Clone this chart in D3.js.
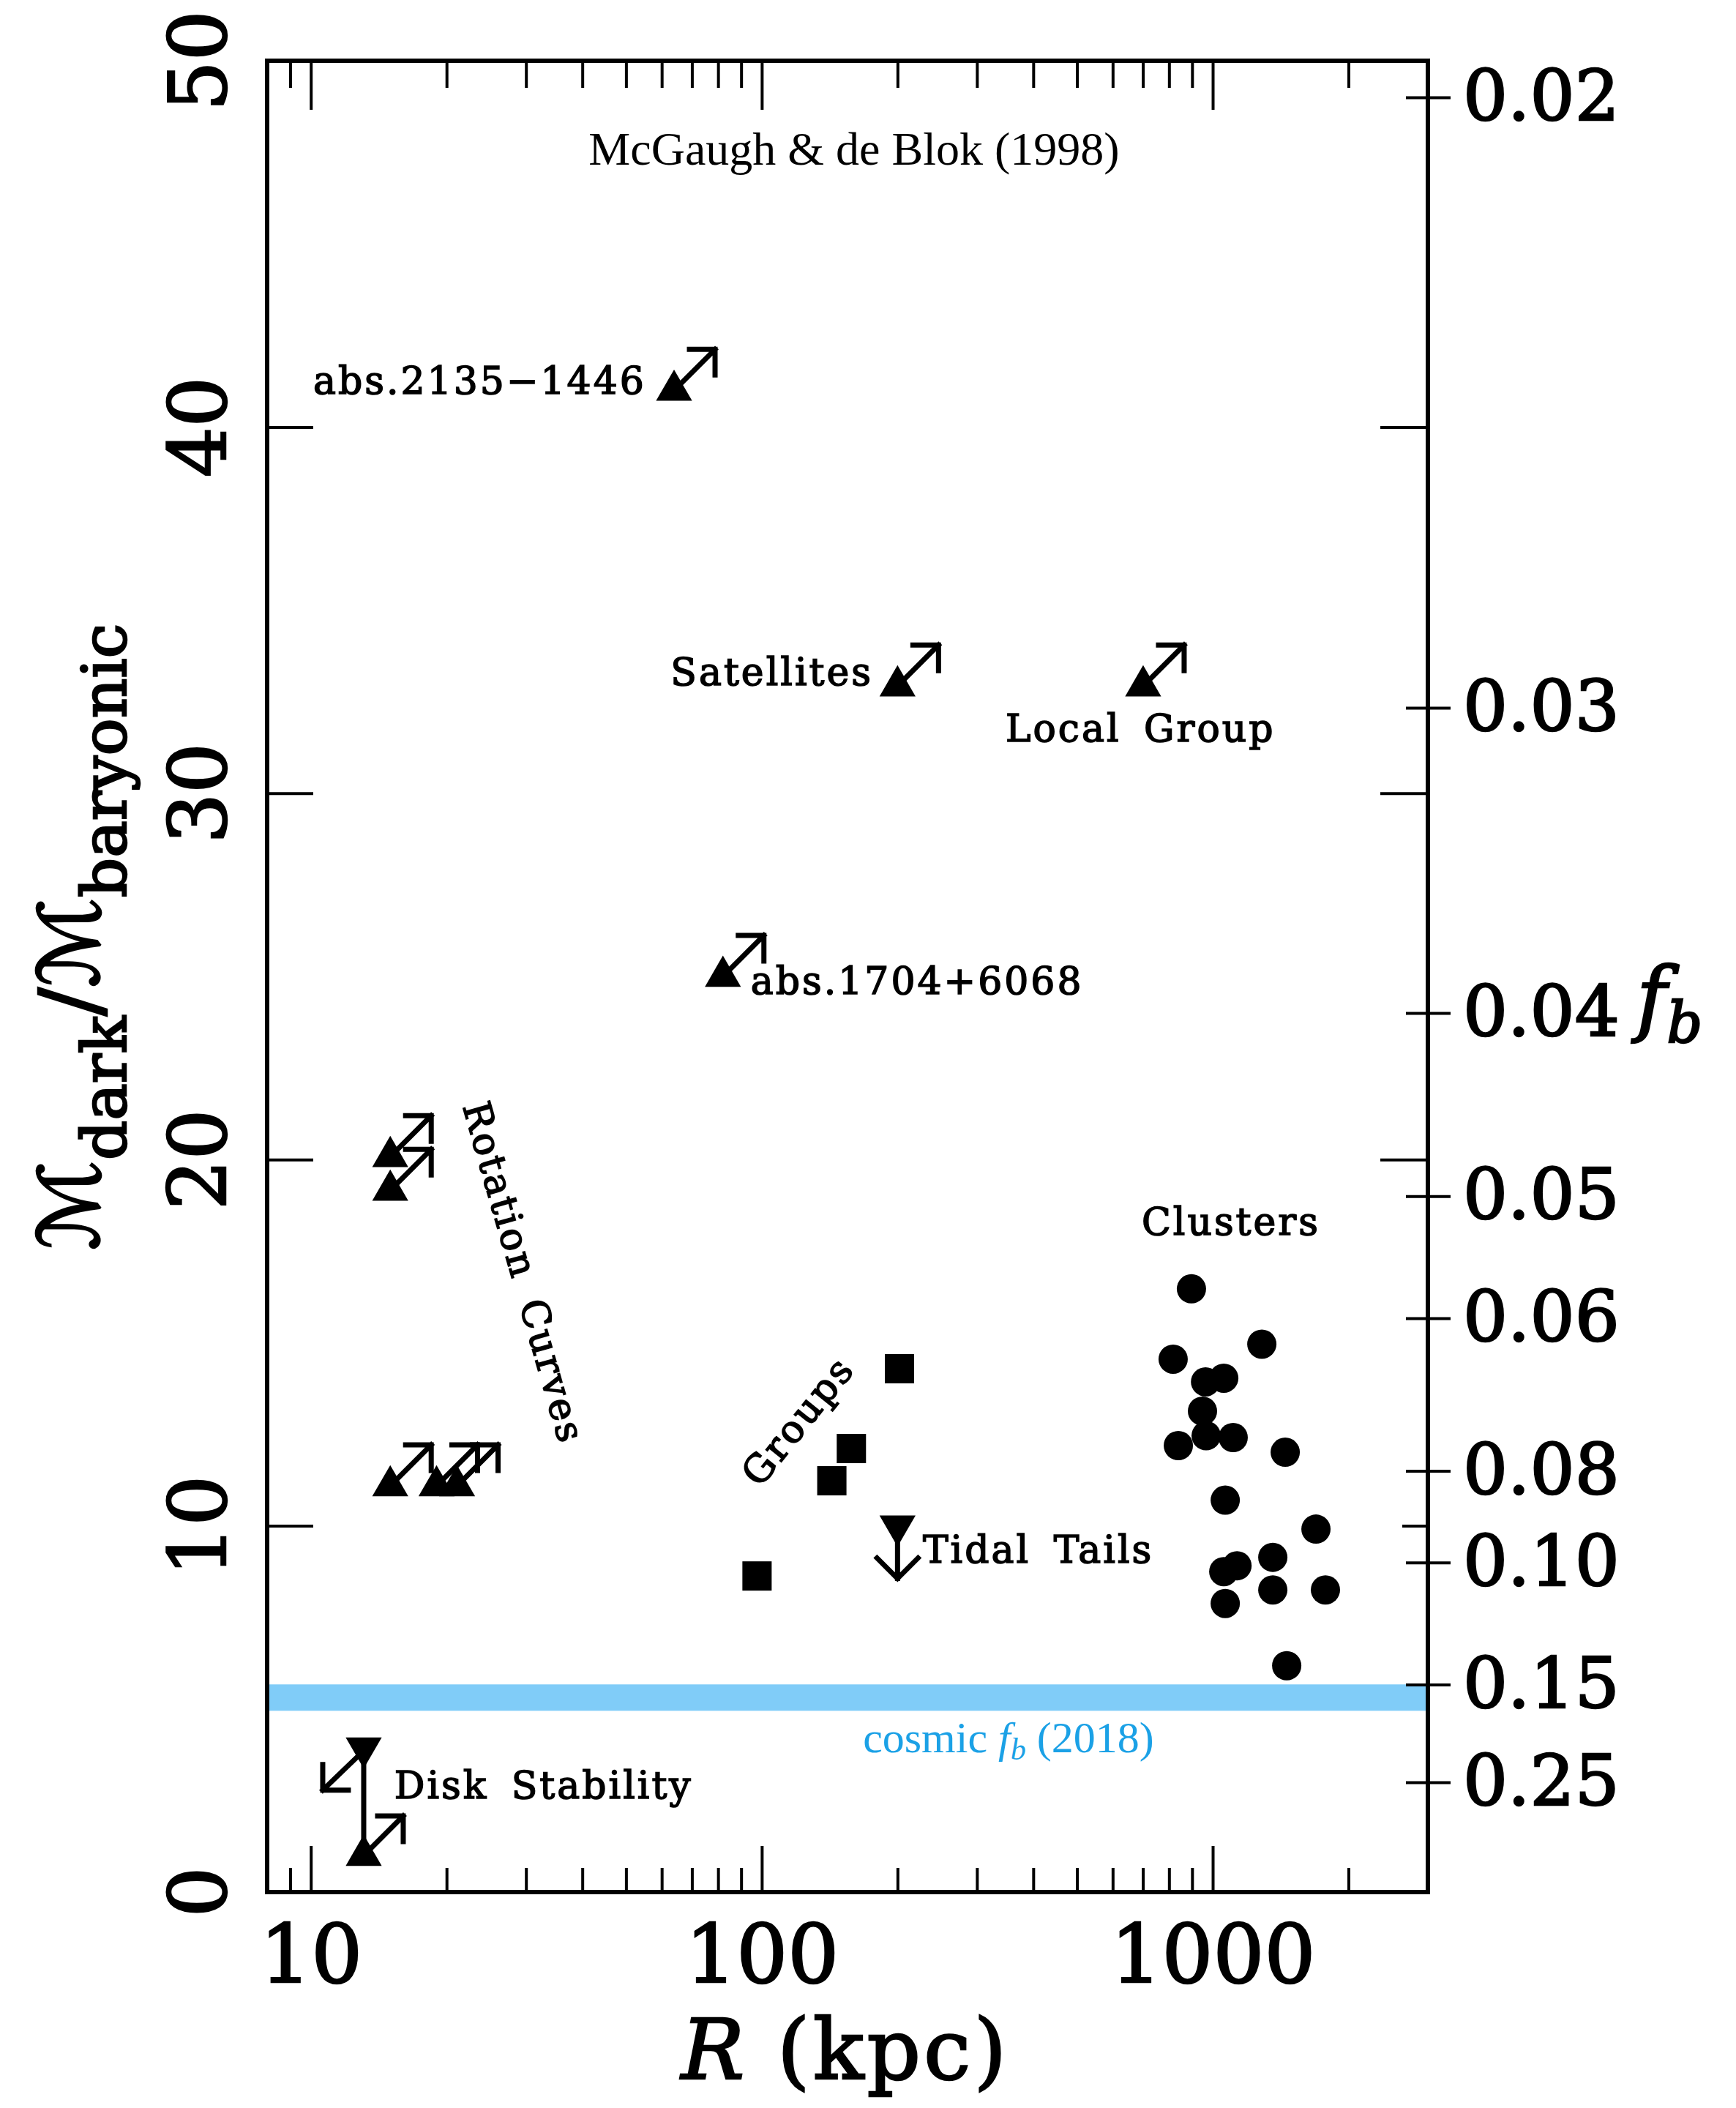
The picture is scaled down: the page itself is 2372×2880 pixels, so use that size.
<!DOCTYPE html>
<html>
<head>
<meta charset="utf-8">
<script src="https://cdn.jsdelivr.net/npm/d3@7"></script>
<style>
  body { margin: 0; background: #fff; }
  svg text { fill: #000; }
</style>
</head>
<body>
<div id="chart"></div>
<script>
// values: R in kpc, y = M_dark / M_baryonic
const clusterR = [897, 1285, 817, 964, 1058, 949, 967, 839, 1110, 1448, 1066, 1694, 1058, 1132, 1359, 1359, 1778, 1066, 1459];
const clusterRatio = [16.47, 14.96, 14.55, 13.93, 14.03, 13.13, 12.46, 12.19, 12.41, 12.01, 10.70, 9.91, 8.75, 8.91, 9.14, 8.25, 8.25, 7.88, 6.18];

const groupR = [202, 158, 143, 97.6];
const groupRatio = [14.29, 12.11, 11.23, 8.63];

// lower limits, drawn as triangles with up-right arrows
const lowerR = [63.9, 200, 701, 82.0, 15.0, 15.0, 15.0, 19.0, 21.1];
const lowerRatio = [41.0, 32.93, 32.93, 25.0, 20.08, 19.16, 11.09, 11.09, 11.09];

// upper limit (tidal tails)
const upperR = [200];
const upperRatio = [10.0];

// disk stability: range between two limits at one radius
const diskR = [13.1, 13.1];
const diskRatio = [3.94, 1.0];

const cosmicBand = [4.95, 5.67];

const xTicksMajor = [10, 100, 1000];
const xTicksMinor = [9, 20, 30, 40, 50, 60, 70, 80, 90, 200, 300, 400, 500, 600, 700, 800, 900, 2000];
const yTickLabels = [0, 10, 20, 30, 40, 50];
const yTicksInner = [10, 20, 30, 40];
const fbTicks = [0.02, 0.03, 0.04, 0.05, 0.06, 0.08, 0.10, 0.15, 0.25];
const fbLabels = ["0.02", "0.03", "0.04", "0.05", "0.06", "0.08", "0.10", "0.15", "0.25"];

// annotation anchors in data coordinates
const labelText = ["abs.2135\u22121446", "Satellites", "Local Group", "abs.1704+6068", "Clusters", "Tidal Tails", "Disk Stability", "Groups", "Rotation Curves"];
const labelR = [55.4, 176.5, 347.2, 94.5, 695.9, 227.6, 15.31, 120.1, 29.7];
const labelRatio = [40.9, 32.95, 31.41, 24.53, 17.95, 8.99, 2.56, 12.87, 16.91];
const labelAnchor = ["end", "end", "start", "start", "start", "start", "start", "middle", "middle"];
const labelAngle = [0, 0, 0, 0, 0, 0, 0, -51, 74];

const width = 2372, height = 2880;
const margin = {top: 83, right: 421, bottom: 295, left: 365};
const plotW = width - margin.left - margin.right;
const plotH = height - margin.top - margin.bottom;

const serif = "'DejaVu Serif', serif";

let svg = d3.select("#chart").append("svg")
  .attr("width", width)
  .attr("height", height)
  .style("background", "#fff");

let g = svg.append("g").attr("transform", "translate(" + margin.left + "," + margin.top + ")");

let x = d3.scaleLog().domain([8, 3000]).range([0, plotW]);
let y = d3.scaleLinear().domain([0, 50]).range([plotH, 0]);

// heavier strokes on the serif text, like the original plot fonts
function thicken(sel, w) {
  sel.attr("stroke", "#000").attr("stroke-width", w).attr("paint-order", "stroke");
}

// cosmic baryon fraction band
g.append("rect")
  .attr("x", 0)
  .attr("width", plotW)
  .attr("y", y(cosmicBand[1]))
  .attr("height", y(cosmicBand[0]) - y(cosmicBand[1]))
  .attr("fill", "#80ccf8");

function styleAxis(sel, sw) {
  sel.select(".domain").remove();
  sel.selectAll("line").attr("stroke", "#000").attr("stroke-width", sw);
}

// top and bottom ticks, pointing inward
g.append("g").call(d3.axisBottom(x).tickValues(xTicksMajor).tickSize(67).tickFormat(""))
  .call(styleAxis, 4);
g.append("g").call(d3.axisBottom(x).tickValues(xTicksMinor).tickSize(37).tickFormat(""))
  .call(styleAxis, 4);
g.append("g").attr("transform", "translate(0," + plotH + ")")
  .call(d3.axisTop(x).tickValues(xTicksMajor).tickSize(63).tickFormat(""))
  .call(styleAxis, 4);
g.append("g").attr("transform", "translate(0," + plotH + ")")
  .call(d3.axisTop(x).tickValues(xTicksMinor).tickSize(33).tickFormat(""))
  .call(styleAxis, 4);

// bottom tick labels
let xLab = g.append("g").attr("transform", "translate(0," + plotH + ")")
  .call(d3.axisBottom(x).tickValues(xTicksMajor).tickFormat(d3.format("d")).tickSize(0).tickPadding(45));
xLab.select(".domain").remove();
xLab.selectAll("text").attr("font-family", serif).attr("font-size", 110).attr("fill", "#000").call(thicken, 2.5);

// left ticks, inward
g.append("g").call(d3.axisRight(y).tickValues(yTicksInner).tickSize(63).tickFormat(""))
  .call(styleAxis, 4);

// left tick labels, rotated
g.selectAll(".ylab").data(yTickLabels).enter().append("text")
  .attr("class", "ylab")
  .attr("transform", d => "translate(-57," + y(d) + ") rotate(-90)")
  .attr("text-anchor", "middle")
  .attr("font-family", serif)
  .attr("font-size", 108)
  .call(thicken, 2.5)
  .text(d => d);

// right side inner ticks for the left scale
g.append("g").attr("transform", "translate(" + plotW + ",0)")
  .call(d3.axisLeft(y).tickValues([20, 30, 40]).tickSize(65).tickFormat(""))
  .call(styleAxis, 4);
g.append("g").attr("transform", "translate(" + plotW + ",0)")
  .call(d3.axisLeft(y).tickValues([10]).tickSize(35).tickFormat(""))
  .call(styleAxis, 4);

// f_b axis on the right: ratio = 1/f_b - 1
let fbAxis = g.append("g").attr("transform", "translate(" + plotW + ",0)")
  .call(d3.axisRight(y).tickValues(fbTicks.map(f => 1 / f - 1)).tickFormat((d, i) => fbLabels[i]).tickSize(31).tickPadding(17));
fbAxis.call(styleAxis, 4);
fbAxis.selectAll(".tick line").attr("x1", -30);
fbAxis.selectAll("text").attr("font-family", serif).attr("font-size", 96).attr("fill", "#000").call(thicken, 2.5);

// frame
g.append("rect")
  .attr("width", plotW)
  .attr("height", plotH)
  .attr("fill", "none")
  .attr("stroke", "#000")
  .attr("stroke-width", 6);

// clusters
g.selectAll(".cluster").data(clusterR).enter().append("circle")
  .attr("class", "cluster")
  .attr("cx", d => x(d))
  .attr("cy", (d, i) => y(clusterRatio[i]))
  .attr("r", 20)
  .attr("fill", "#000");

// groups
g.selectAll(".group").data(groupR).enter().append("rect")
  .attr("class", "group")
  .attr("x", d => x(d) - 20)
  .attr("y", (d, i) => y(groupRatio[i]) - 20)
  .attr("width", 40)
  .attr("height", 40)
  .attr("fill", "#000");

let tri = d3.symbol().type(d3.symbolTriangle).size(1050);
const armLen = 35;

function drawArrow(x0, y0, dx, dy, head) {
  let tx = x0 + dx, ty = y0 + dy;
  let p = d3.path();
  p.moveTo(x0, y0);
  p.lineTo(tx, ty);
  if (head === "corner") {
    // arms run back horizontally and vertically from the tip
    p.moveTo(tx - Math.sign(dx) * armLen, ty);
    p.lineTo(tx, ty);
    p.lineTo(tx, ty - Math.sign(dy) * armLen);
  } else {
    p.moveTo(tx - 28, ty - 28);
    p.lineTo(tx, ty);
    p.lineTo(tx + 28, ty - 28);
  }
  g.append("path")
    .attr("d", p.toString())
    .attr("fill", "none")
    .attr("stroke", "#000")
    .attr("stroke-width", 7)
    .attr("stroke-linecap", "square");
}

// lower limits
lowerR.forEach((r, i) => {
  let px = x(r), py = y(lowerRatio[i]);
  g.append("path").attr("d", tri()).attr("transform", "translate(" + px + "," + py + ")").attr("fill", "#000");
  drawArrow(px, py, 56, -56, "corner");
});

// upper limit
upperR.forEach((r, i) => {
  let px = x(r), py = y(upperRatio[i]);
  g.append("path").attr("d", tri()).attr("transform", "translate(" + px + "," + py + ") rotate(180)").attr("fill", "#000");
  drawArrow(px, py, 0, 72, "v");
});

// disk stability
g.append("line")
  .attr("x1", x(diskR[0])).attr("x2", x(diskR[1]))
  .attr("y1", y(diskRatio[0])).attr("y2", y(diskRatio[1]))
  .attr("stroke", "#000").attr("stroke-width", 7);
g.append("path").attr("d", tri())
  .attr("transform", "translate(" + x(diskR[0]) + "," + y(diskRatio[0]) + ") rotate(180)").attr("fill", "#000");
g.append("path").attr("d", tri())
  .attr("transform", "translate(" + x(diskR[1]) + "," + y(diskRatio[1]) + ")").attr("fill", "#000");
drawArrow(x(diskR[0]), y(diskRatio[0]) + 4, -56, 54, "corner");
drawArrow(x(diskR[1]), y(diskRatio[1]), 54, -54, "corner");

// annotations
labelText.forEach((t, i) => {
  g.append("text")
    .attr("transform", "translate(" + x(labelR[i]) + "," + y(labelRatio[i]) + ") rotate(" + labelAngle[i] + ")")
    .attr("text-anchor", labelAnchor[i])
    .attr("dy", labelAngle[i] === 0 ? 0 : "0.35em")
    .attr("font-family", serif)
    .attr("font-size", 52)
    .attr("letter-spacing", 3)
    .attr("word-spacing", 12)
    .call(thicken, 1.6)
    .text(t);
});

// reference text
g.append("text")
  .attr("x", x(160.2)).attr("y", y(47.16))
  .attr("text-anchor", "middle")
  .attr("font-family", "'Liberation Serif', 'Times New Roman', serif")
  .attr("font-size", 64)
  .text("McGaugh & de Blok (1998)");

let cosmic = g.append("text")
  .attr("x", x(352.4)).attr("y", y(3.82))
  .attr("text-anchor", "middle")
  .attr("font-family", "'Liberation Serif', 'Times New Roman', serif")
  .attr("font-size", 60)
  .style("fill", "#1ba1e6");
cosmic.append("tspan").text("cosmic ");
cosmic.append("tspan").attr("font-style", "italic").text("f");
cosmic.append("tspan").attr("font-style", "italic").attr("font-size", 42).attr("dy", 10).text("b");
cosmic.append("tspan").attr("dy", -10).text(" (2018)");

// x axis title
let xt = svg.append("text")
  .attr("x", 1155).attr("y", 2840)
  .attr("text-anchor", "middle")
  .attr("font-family", serif)
  .attr("font-size", 115)
  .attr("letter-spacing", 4)
  .call(thicken, 2.5);
xt.append("tspan").attr("font-style", "italic").text("R");
xt.append("tspan").text("  (kpc)");

// y axis title
let yt = svg.append("text")
  .attr("transform", "translate(135,1280) rotate(-90)")
  .attr("text-anchor", "middle")
  .attr("font-family", serif)
  .attr("font-size", 115)
  .call(thicken, 2.5);
yt.append("tspan").attr("font-family", "'DejaVu Sans', sans-serif").text("\u2133");
yt.append("tspan").attr("font-size", 85).attr("dy", 37).text("dark");
yt.append("tspan").attr("dy", -37).text("/");
yt.append("tspan").attr("font-family", "'DejaVu Sans', sans-serif").text("\u2133");
yt.append("tspan").attr("font-size", 85).attr("dy", 37).text("baryonic");

// f_b label on the right
let fb = svg.append("text")
  .attr("x", 2236).attr("y", 1402)
  .attr("font-family", serif)
  .attr("font-style", "italic")
  .attr("font-size", 112)
  .call(thicken, 2.5);
fb.append("tspan").text("f");
fb.append("tspan").attr("font-size", 76).attr("dy", 22).text("b");
</script>
</body>
</html>
